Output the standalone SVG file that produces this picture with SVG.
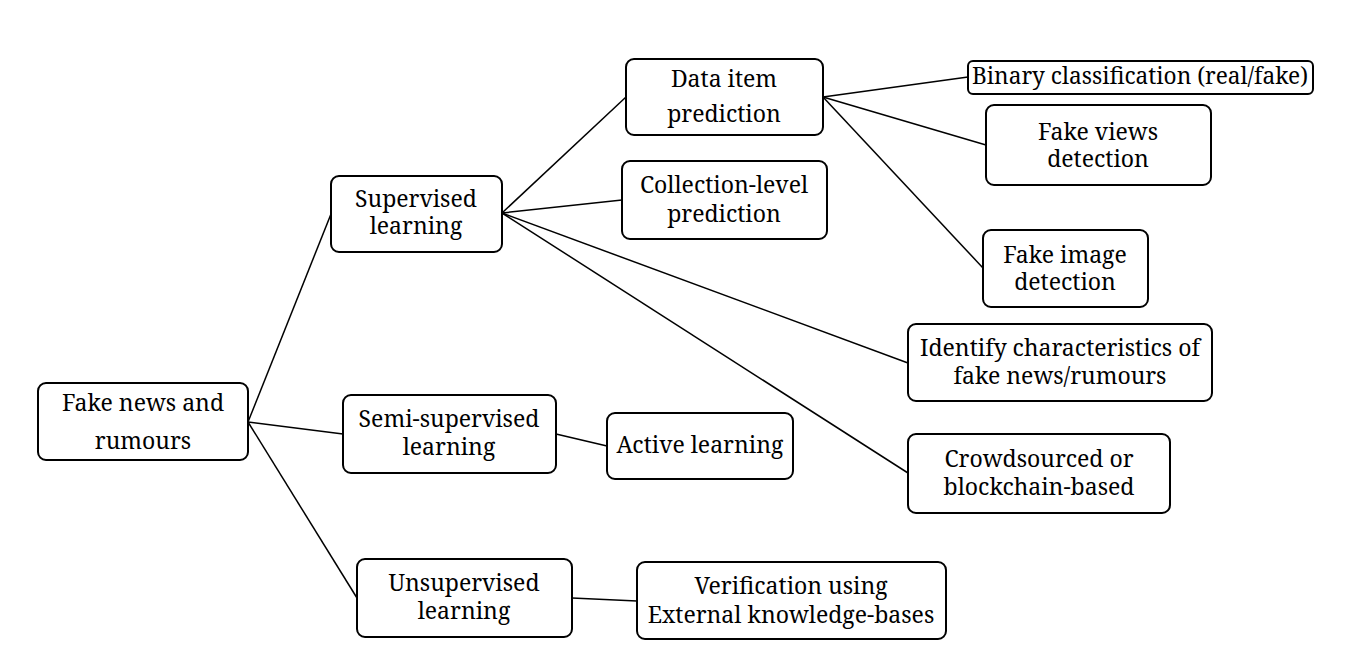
<svg xmlns="http://www.w3.org/2000/svg" width="1348" height="670" viewBox="0 0 1348 670">
<style>
.box{fill:#fff;stroke:#000;stroke-width:2}
.t{font-family:'Noto Serif','DejaVu Serif','Liberation Serif',serif;font-size:23px;fill:#000;text-anchor:middle}
.c line{stroke:#000;stroke-width:1.5}
</style>
<rect width="1348" height="670" fill="#fff"/>
<g class="c" id="connectors">
<line x1="248" y1="422" x2="331" y2="214"/>
<line x1="248" y1="422" x2="343" y2="434"/>
<line x1="248" y1="422" x2="357" y2="598"/>
<line x1="502" y1="213" x2="626" y2="97"/>
<line x1="502" y1="213" x2="622" y2="200"/>
<line x1="502" y1="213" x2="908" y2="363"/>
<line x1="502" y1="213" x2="908" y2="473"/>
<line x1="823" y1="97" x2="968" y2="77"/>
<line x1="823" y1="97" x2="986" y2="145"/>
<line x1="823" y1="97" x2="983" y2="268"/>
<line x1="556" y1="434" x2="607" y2="446"/>
<line x1="572" y1="598" x2="637" y2="601"/>
</g>
<g id="fake-news">
<rect class="box" x="38" y="383" width="210" height="77" rx="8"/>
<text class="t" x="143" y="411">Fake news and</text>
<text class="t" x="143" y="449">rumours</text>
</g>
<g id="supervised">
<rect class="box" x="331" y="176" width="171" height="76" rx="8"/>
<text class="t" x="416" y="207">Supervised</text>
<text class="t" x="416" y="234">learning</text>
</g>
<g id="semi-supervised">
<rect class="box" x="343" y="395" width="213" height="78" rx="8"/>
<text class="t" x="449" y="427">Semi-supervised</text>
<text class="t" x="449" y="455">learning</text>
</g>
<g id="unsupervised">
<rect class="box" x="357" y="559" width="215" height="78" rx="8"/>
<text class="t" x="464" y="591">Unsupervised</text>
<text class="t" x="464" y="619">learning</text>
</g>
<g id="data-item">
<rect class="box" x="626" y="59" width="197" height="76" rx="8"/>
<text class="t" x="724" y="87">Data item</text>
<text class="t" x="724" y="122">prediction</text>
</g>
<g id="collection-level">
<rect class="box" x="622" y="161" width="205" height="78" rx="8"/>
<text class="t" x="724" y="193">Collection-level</text>
<text class="t" x="724" y="222">prediction</text>
</g>
<g id="binary">
<rect class="box" x="968" y="61" width="345" height="33" rx="5"/>
<text class="t" x="1140" y="84" textLength="336" lengthAdjust="spacingAndGlyphs">Binary classification (real/fake)</text>
</g>
<g id="fake-views">
<rect class="box" x="986" y="105" width="225" height="80" rx="8"/>
<text class="t" x="1098" y="140">Fake views</text>
<text class="t" x="1098" y="167">detection</text>
</g>
<g id="fake-image">
<rect class="box" x="983" y="230" width="165" height="77" rx="8"/>
<text class="t" x="1065" y="263">Fake image</text>
<text class="t" x="1065" y="290">detection</text>
</g>
<g id="identify">
<rect class="box" x="908" y="324" width="304" height="77" rx="8"/>
<text class="t" x="1060" y="356">Identify characteristics of</text>
<text class="t" x="1060" y="384">fake news/rumours</text>
</g>
<g id="crowdsourced">
<rect class="box" x="908" y="434" width="262" height="79" rx="8"/>
<text class="t" x="1039" y="467">Crowdsourced or</text>
<text class="t" x="1039" y="495">blockchain-based</text>
</g>
<g id="active">
<rect class="box" x="607" y="413" width="186" height="66" rx="8"/>
<text class="t" x="700" y="453">Active learning</text>
</g>
<g id="verification">
<rect class="box" x="637" y="562" width="309" height="77" rx="8"/>
<text class="t" x="791" y="594">Verification using</text>
<text class="t" x="791" y="623">External knowledge-bases</text>
</g>
</svg>
